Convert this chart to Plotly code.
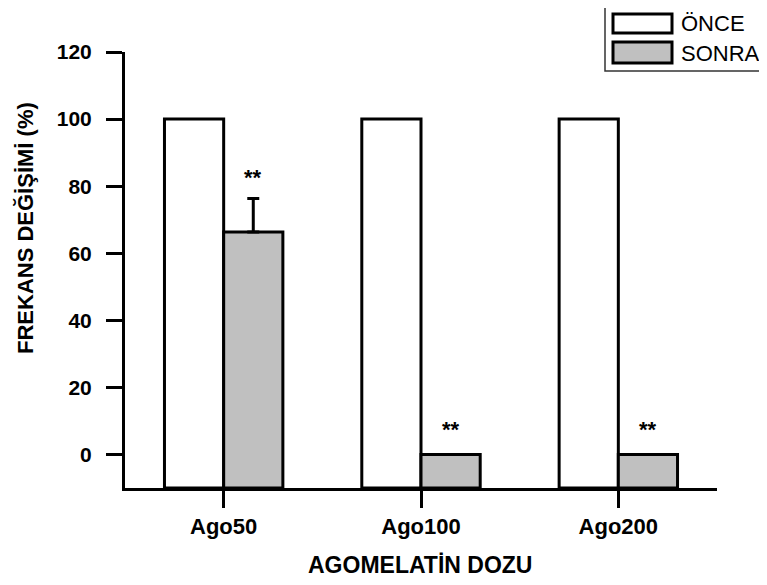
import plotly.graph_objects as go

categories = ["Ago50", "Ago100", "Ago200"]
once_values = [100, 100, 100]
sonra_values = [66.3, 0, 0]
sonra_err = [10, None, None]
sig_labels = ["**", "**", "**"]
sig_y = [82.7, 7.5, 7.5]
y_ticks = [0, 20, 40, 60, 80, 100, 120]

BASE = -10
W, H = 767, 585
OFF = 8  # page body margin
# plot area in page pixels: x 125..717, y 52..488
L = 125 - OFF
T = 52 - OFF
R = W - (717 - OFF)
B = H - (488 - OFF)
PW, PH = W - L - R, H - T - B

FONT = "Liberation Sans, Arial, sans-serif"
GRAY = "#c0c0c0"


def px_x(x):
    return (x - OFF - L) / PW


def px_y(y):
    return (H - B - (y - OFF)) / PH


fig = go.Figure()
fig.add_trace(go.Bar(
    x=categories, y=[v - BASE for v in once_values], base=BASE, name="ÖNCE",
    marker=dict(color="white", line=dict(color="black", width=3)),
    showlegend=False,
))
fig.add_trace(go.Bar(
    x=categories, y=[v - BASE for v in sonra_values], base=BASE, name="SONRA",
    marker=dict(color=GRAY, line=dict(color="black", width=3)),
    error_y=dict(type="data", array=sonra_err, symmetric=False,
                 arrayminus=[0, 0, 0], color="black", thickness=3, width=6),
    showlegend=False,
))

annotations = []
for i, (lab, yv) in enumerate(zip(sig_labels, sig_y)):
    annotations.append(dict(x=i + 0.15, y=yv, xref="x", yref="y", text=lab,
                            xanchor="center", yanchor="middle", showarrow=False,
                            font=dict(family=FONT, size=22, color="black", weight="bold")))

annotations.append(dict(x=px_x(420), y=px_y(565), xref="paper", yref="paper",
                        text="AGOMELATİN DOZU", showarrow=False,
                        xanchor="center", yanchor="middle",
                        font=dict(family=FONT, size=23, color="black", weight="bold")))
annotations.append(dict(x=px_x(25), y=px_y(228), xref="paper", yref="paper",
                        text="FREKANS DEĞİŞİMİ (%)", showarrow=False, textangle=-90,
                        xanchor="center", yanchor="middle",
                        font=dict(family=FONT, size=22, color="black", weight="bold")))

# legend (manual)
shapes = [
    dict(type="rect", xref="paper", yref="paper", x0=px_x(605), x1=px_x(780),
         y0=px_y(71), y1=px_y(4), line=dict(color="#333333", width=1.5), fillcolor="white"),
    dict(type="rect", xref="paper", yref="paper", x0=px_x(613), x1=px_x(672),
         y0=px_y(33), y1=px_y(14), line=dict(color="black", width=3), fillcolor="white"),
    dict(type="rect", xref="paper", yref="paper", x0=px_x(613), x1=px_x(672),
         y0=px_y(63), y1=px_y(42), line=dict(color="black", width=3), fillcolor=GRAY),
]
annotations.append(dict(x=px_x(679), y=px_y(24), xref="paper", yref="paper", text="ÖNCE",
                        xanchor="left", yanchor="middle", showarrow=False,
                        font=dict(family=FONT, size=22, color="black")))
annotations.append(dict(x=px_x(679), y=px_y(53), xref="paper", yref="paper", text="SONRA",
                        xanchor="left", yanchor="middle", showarrow=False,
                        font=dict(family=FONT, size=22, color="black")))

fig.update_layout(
    width=W, height=H,
    margin=dict(l=L, r=R, t=T, b=B, autoexpand=False),
    paper_bgcolor="white", plot_bgcolor="white",
    barmode="group", bargap=0.4, bargroupgap=0,
    showlegend=False,
    annotations=annotations, shapes=shapes,
    font=dict(family=FONT, color="black"),
)
fig.update_xaxes(
    type="category", range=[-0.5, 2.5], showline=True, linewidth=3, linecolor="black",
    ticks="outside", ticklen=17, tickwidth=3, tickcolor="black", showgrid=False,
    tickfont=dict(family=FONT, size=22, color="black", weight="bold"), ticklabelstandoff=0,
)
fig.update_yaxes(
    range=[-10, 120], showline=True, linewidth=3, linecolor="black",
    ticks="outside", ticklen=16, tickwidth=3, tickcolor="black", showgrid=False,
    zeroline=False, tickvals=y_ticks,
    tickfont=dict(family=FONT, size=21, color="black", weight="bold"), ticklabelstandoff=10,
)

fig.write_html("out.html")
